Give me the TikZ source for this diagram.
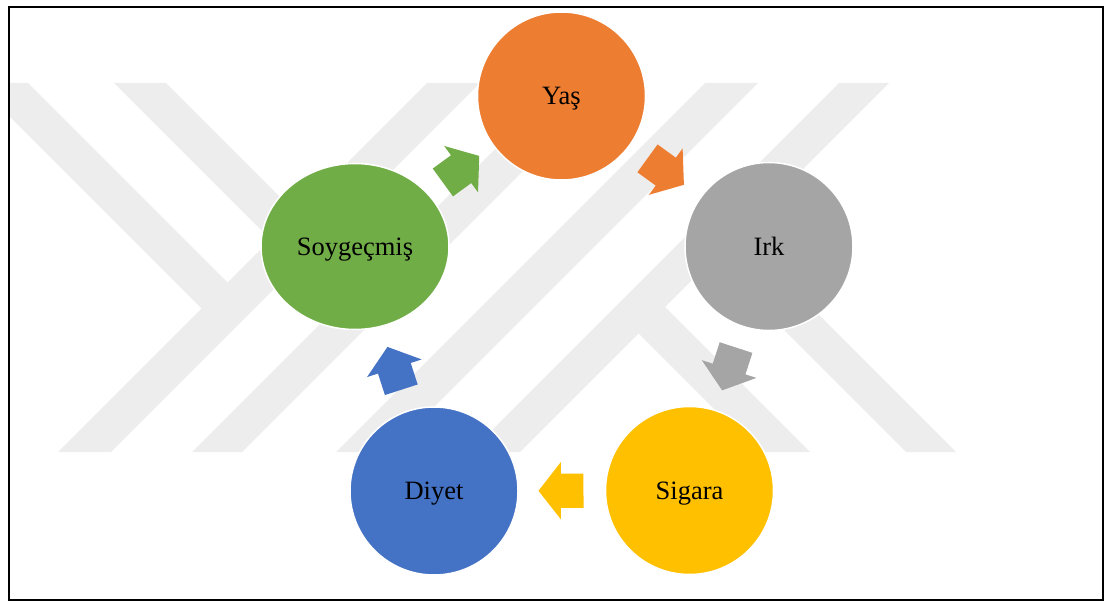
\documentclass[tikz,border=0pt]{standalone}
\usepackage{fontspec}
\setmainfont{Liberation Serif}
\usepackage{xcolor}
\definecolor{YasFill}{HTML}{ED7D31}
\definecolor{IrkFill}{HTML}{A5A5A5}
\definecolor{SigaraFill}{HTML}{FFC000}
\definecolor{DiyetFill}{HTML}{4472C4}
\definecolor{SoyFill}{HTML}{70AD47}
\definecolor{MarkFill}{HTML}{EDEDED}
\usepackage{tikz}
\usetikzlibrary{shapes.geometric,shapes.arrows}

\begin{document}
\begin{tikzpicture}[
    x=1pt,
    y=-1pt,
    factor/.style={
        circle,
        draw=white,
        line width=1.5pt,
        minimum size=168pt,
        inner sep=0pt,
        text height=23.6pt,
        text depth=5.7pt,
        font=\fontsize{26.5}{30}\selectfont
    },
    wide/.style={
        ellipse,
        draw=white,
        line width=1.5pt,
        minimum width=188pt,
        minimum height=166pt,
        inner sep=0pt,
        text height=23.6pt,
        text depth=5.7pt,
        font=\fontsize{26.5}{30}\selectfont
    },
    flow/.style={
        single arrow,
        single arrow tip angle=104,
        single arrow head extend=11.5pt,
        single arrow head indent=0pt,
        inner xsep=0pt,
        inner ysep=17pt,
        minimum height=45pt,
        sloped,
        allow upside down,
        anchor=tail,
        pos=0.245
    }
]

\useasboundingbox (0,0) rectangle (1105,601);

% ---------------------------------------------------------
% Filigran (arka plan bantlari)
% ---------------------------------------------------------

\begin{scope}
\clip (9,83) rectangle (1103,452);
\fill[MarkFill] (427,83) -- (480,83) -- (111,452) -- (58,452) -- cycle;
\fill[MarkFill] (561,83) -- (611,83) -- (242,452) -- (192,452) -- cycle;
\fill[MarkFill] (705,83) -- (758,83) -- (389,452) -- (336,452) -- cycle;
\fill[MarkFill] (839,83) -- (889,83) -- (520,452) -- (470,452) -- cycle;
\fill[MarkFill] (-24,83) -- (28,83) -- (237.5,292.5) -- (211.5,318.5) -- cycle;
\fill[MarkFill] (114,83) -- (166,83) -- (376.5,293.5) -- (350.5,319.5) -- cycle;
\fill[MarkFill] (654,296) -- (810,452) -- (757,452) -- (627.5,322.5) -- cycle;
\fill[MarkFill] (727,223) -- (956,452) -- (906,452) -- (702,248) -- cycle;
\end{scope}

% ---------------------------------------------------------
% Risk faktorleri
% ---------------------------------------------------------

\node[factor, fill=YasFill] (yas) at (561.5,96) {Yaş};

\node[factor, fill=IrkFill] (irk) at (769,246.5) {Irk};

\node[factor, fill=SigaraFill] (sigara) at (689.5,490.5) {Sigara};

\node[factor, fill=DiyetFill] (diyet) at (434,491) {Diyet};

\node[wide, fill=SoyFill] (soy) at (355,246.5) {Soygeçmiş};

% ---------------------------------------------------------
% Dongu oklari
% ---------------------------------------------------------

\path (soy) -- node[flow, fill=SoyFill, pos=0.225] (okSoy) {} (yas);

\path (yas) -- node[flow, fill=YasFill] (okYas) {} (irk);

\path (irk) -- node[flow, fill=IrkFill] (okIrk) {} (sigara);

\path (sigara) -- node[flow, fill=SigaraFill] (okSigara) {} (diyet);

\path (diyet) -- node[flow, fill=DiyetFill] (okDiyet) {} (soy);

% cerceve
\draw[line width=2pt] (9,7) rectangle (1103,600);

\end{tikzpicture}
\end{document}
